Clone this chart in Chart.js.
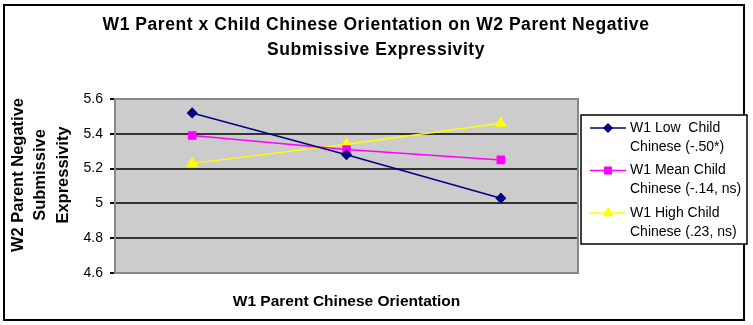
<!DOCTYPE html>
<html>
<head>
<meta charset="utf-8">
<script src="https://cdn.jsdelivr.net/npm/chart.js@4/dist/chart.umd.min.js"></script>
<style>
  html, body { margin: 0; padding: 0; background: #ffffff; }
  #wrap { position: relative; width: 753px; height: 325px; }
</style>
</head>
<body>
<div id="wrap"><canvas id="c" width="753" height="325"></canvas></div>
<script>
// ---- data ----
const categories = ['Low', 'Mean', 'High'];
const lowChild  = [5.52, 5.28, 5.03];
const meanChild = [5.39, 5.31, 5.25];
const highChild = [5.23, 5.34, 5.46];
const yTicks = [4.6, 4.8, 5.0, 5.2, 5.4, 5.6];
const seriesNames = [
  ['W1 Low  Child', 'Chinese (-.50*)'],
  ['W1 Mean Child', 'Chinese (-.14, ns)'],
  ['W1 High Child', 'Chinese (.23, ns)']
];
const chartTitle = ['W1 Parent x Child Chinese Orientation on W2 Parent Negative', 'Submissive Expressivity'];
const yTitle = ['W2 Parent Negative', 'Submissive', 'Expressivity'];
const xTitle = 'W1 Parent Chinese Orientation';

const FONT = '"Liberation Sans", Arial, sans-serif';

function drawMarker(ctx, style, r, x, y, color) {
  ctx.save();
  ctx.fillStyle = color; ctx.strokeStyle = color; ctx.lineWidth = 1;
  ctx.beginPath();
  if (style === 'rectRot') {
    ctx.moveTo(x, y - r); ctx.lineTo(x + r, y); ctx.lineTo(x, y + r); ctx.lineTo(x - r, y);
  } else if (style === 'rect') {
    const s = r * Math.SQRT1_2;
    ctx.rect(x - s, y - s, 2 * s, 2 * s);
  } else {
    ctx.moveTo(x, y - r);
    ctx.lineTo(x + r * Math.cos(Math.PI / 6), y + r / 2);
    ctx.lineTo(x - r * Math.cos(Math.PI / 6), y + r / 2);
  }
  ctx.closePath();
  ctx.fill(); ctx.stroke();
  ctx.restore();
}

const decor = {
  id: 'decor',
  beforeDraw(chart) {
    const ctx = chart.ctx, a = chart.chartArea;
    ctx.save();
    ctx.fillStyle = '#cccccc';
    ctx.fillRect(a.left, a.top, a.right - a.left, a.bottom - a.top);
    ctx.restore();
  },
  beforeDatasetsDraw(chart) {
    const ctx = chart.ctx, a = chart.chartArea;
    ctx.save();
    ctx.strokeStyle = '#888888';
    ctx.lineWidth = 2;
    ctx.strokeRect(a.left, a.top, a.right - a.left, a.bottom - a.top);
    ctx.restore();
  },
  afterDraw(chart) {
    const ctx = chart.ctx, a = chart.chartArea;
    ctx.save();
    // outer border
    ctx.strokeStyle = '#000';
    ctx.lineWidth = 2;
    ctx.strokeRect(4, 5, 740, 315);
    // title
    ctx.fillStyle = '#000';
    ctx.textAlign = 'center';
    ctx.textBaseline = 'middle';
    ctx.font = 'bold 17.5px ' + FONT;
    if ('letterSpacing' in ctx) ctx.letterSpacing = '0.55px';
    chartTitle.forEach((t, i) => ctx.fillText(t, 376, 25 + i * 25));
    if ('letterSpacing' in ctx) ctx.letterSpacing = '0px';
    // x title
    ctx.font = 'bold 15.5px ' + FONT;
    ctx.fillText(xTitle, (a.left + a.right) / 2, 302);
    // y title
    ctx.save();
    ctx.font = 'bold 16.5px ' + FONT;
    ctx.translate(0, 175);
    ctx.rotate(-Math.PI / 2);
    yTitle.forEach((t, i) => ctx.fillText(t, 0, 18 + i * 22.5));
    ctx.restore();
    // legend
    const lx = 581, ly = 115, lw = 166, lh = 129;
    ctx.fillStyle = '#fff';
    ctx.fillRect(lx, ly, lw, lh);
    ctx.strokeStyle = '#000';
    ctx.lineWidth = 1.5;
    ctx.strokeRect(lx, ly, lw, lh);
    ctx.font = '14px ' + FONT;
    ctx.textAlign = 'left';
    chart.data.datasets.forEach((ds, i) => {
      const y1 = 128 + i * 42.5;
      ctx.strokeStyle = ds.borderColor;
      ctx.lineWidth = 1.5;
      ctx.beginPath(); ctx.moveTo(590, y1); ctx.lineTo(626, y1); ctx.stroke();
      drawMarker(ctx, ds.pointStyle, ds.pointRadius, 608, y1, ds.borderColor);
      ctx.fillStyle = '#000';
      ds.label.forEach((t, j) => ctx.fillText(t, 630, y1 + j * 19));
    });
    ctx.restore();
  }
};

new Chart(document.getElementById('c'), {
  type: 'line',
  data: {
    labels: categories,
    datasets: [
      { label: seriesNames[0], data: lowChild, borderColor: '#000080', backgroundColor: '#000080',
        pointStyle: 'rectRot', pointRadius: 4.5, borderWidth: 1.5 },
      { label: seriesNames[1], data: meanChild, borderColor: '#ff00ff', backgroundColor: '#ff00ff',
        pointStyle: 'rect', pointRadius: 5, borderWidth: 1.5 },
      { label: seriesNames[2], data: highChild, borderColor: '#ffff00', backgroundColor: '#ffff00',
        pointStyle: 'triangle', pointRadius: 5.5, borderWidth: 1.5 }
    ]
  },
  options: {
    responsive: false,
    animation: false,
    devicePixelRatio: 1,
    layout: { padding: { top: 99, right: 175, left: 0, bottom: 0 } },
    plugins: { legend: { display: false }, title: { display: false }, tooltip: { enabled: false } },
    elements: { line: { tension: 0 }, point: { borderWidth: 1 } },
    scales: {
      x: {
        type: 'category',
        offset: true,
        grid: { display: false },
        border: { display: false },
        ticks: { display: false },
        afterFit(s) { s.height = 52; }
      },
      y: {
        min: 4.6, max: 5.6,
        afterBuildTicks(s) { s.ticks = yTicks.map(v => ({ value: v })); },
        ticks: {
          padding: 7,
          color: '#000',
          font: { family: FONT, size: 14 },
          callback: (v) => String(Number(v.toFixed(1)))
        },
        grid: {
          color: (c) => (c.tick && (Math.abs(c.tick.value - 4.6) < 1e-6 || Math.abs(c.tick.value - 5.6) < 1e-6)) ? 'rgba(0,0,0,0)' : '#333333',
          lineWidth: 2,
          tickLength: 5,
          tickColor: '#000',
          drawTicks: true
        },
        border: { display: false },
        afterFit(s) { s.width = 115; }
      }
    }
  },
  plugins: [decor]
});
</script>
</body>
</html>
